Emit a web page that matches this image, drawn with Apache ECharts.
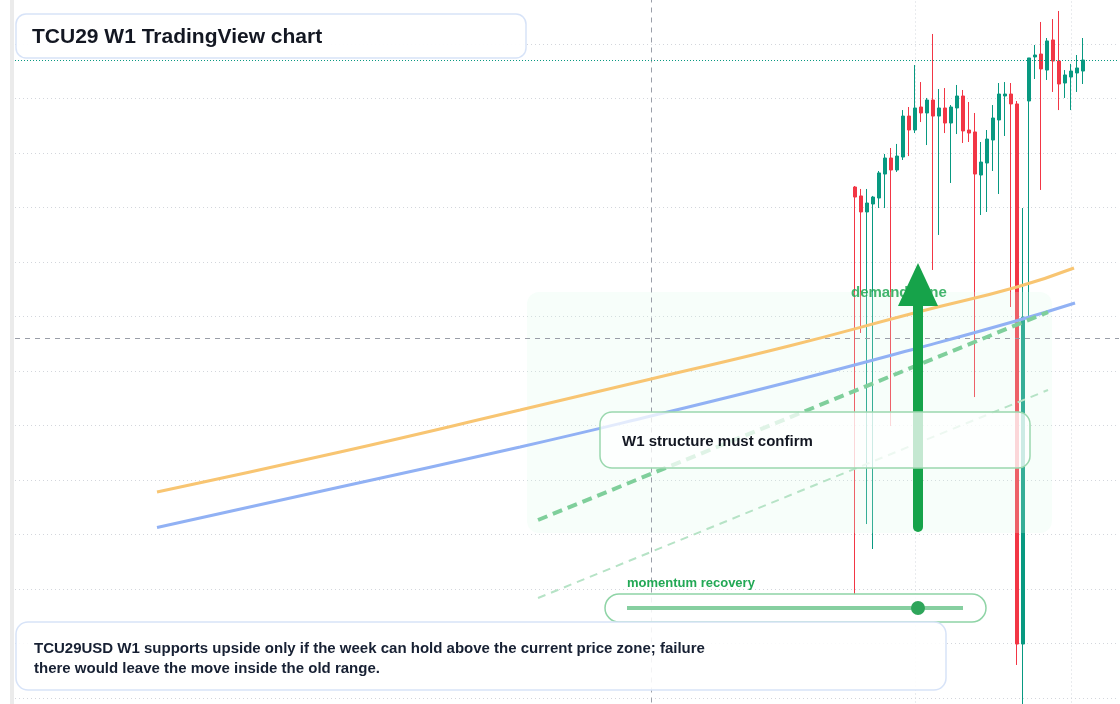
<!DOCTYPE html>
<html>
<head>
<meta charset="utf-8">
<title>TCU29 W1 TradingView chart</title>
<script src="https://cdn.jsdelivr.net/npm/echarts@6/dist/echarts.min.js"></script>
<style>
  html, body { margin: 0; padding: 0; background: #fff; }
  #chart { width: 1120px; height: 704px; }
</style>
</head>
<body>
<div id="chart"></div>
<script>
// weekly candles, oldest first
const firstWeek = 140;
const opens  = [1.1188, 1.1106, 1.0959, 1.1032, 1.1087, 1.1307, 1.1454, 1.1344, 1.1463, 1.1839,
                1.1711, 1.1922, 1.1867, 1.1986, 1.1839, 1.1913, 1.1775, 1.1913, 1.2023, 1.1711,
                1.1693, 1.1298, 1.1408, 1.1619, 1.1803, 1.2023, 1.2041, 1.1950, 0.6995, 1.1977,
                1.2381, 1.2408, 1.2261, 1.2537, 1.2344, 1.2142, 1.2197, 1.2234, 1.2252];
const closes = [1.1096, 1.0959, 1.1041, 1.1096, 1.1317, 1.1454, 1.1344, 1.1472, 1.1839, 1.1711,
                1.1913, 1.1867, 1.1986, 1.1839, 1.1913, 1.1775, 1.1922, 1.2023, 1.1702, 1.1683,
                1.1307, 1.1417, 1.1628, 1.1821, 1.2041, 1.2041, 1.1950, 0.6995, 0.9995, 1.2372,
                1.2399, 1.2271, 1.2528, 1.2344, 1.2133, 1.2216, 1.2252, 1.2280, 1.2353];
const lows   = [0.7445, 0.9849, 0.8096, 0.7867, 1.0995, 1.0995, 0.8995, 1.1326, 1.1436, 1.1472,
                1.1683, 1.1784, 1.1573, 1.0427, 1.0748, 1.1683, 1.1225, 1.1674, 1.1592, 1.1601,
                0.9261, 1.0931, 1.0959, 1.1335, 1.1124, 1.1656, 1.0087, 0.6803, 0.6436, 0.9950,
                1.2179, 1.1161, 1.2170, 1.2060, 1.1894, 1.2005, 1.1894, 1.2060, 1.2133];
const highs  = [1.1197, 1.1170, 1.1170, 1.1106, 1.1335, 1.1491, 1.1546, 1.1583, 1.1894, 1.1922,
                1.2307, 1.2151, 1.2005, 1.2592, 1.2087, 1.2096, 1.1940, 1.2124, 1.2078, 1.1968,
                1.1867, 1.1601, 1.1711, 1.1940, 1.2142, 1.2151, 1.2142, 1.1977, 1.0995, 1.2372,
                1.2491, 1.2702, 1.2555, 1.2729, 1.2803, 1.2261, 1.2317, 1.2399, 1.2555];

// drawn studies, [week index, price]
const orangeBand  = [[23.67, 0.8390], [54.17, 0.8757], [84.17, 0.9142], [106, 0.9427],
                     [129, 0.9729], [150.5, 1.0041], [167, 1.0271], [176.5, 1.0445]];
const blueBand    = [[23.67, 0.8064], [54.17, 0.8436], [84.17, 0.8803], [106, 0.9087],
                     [129, 0.9399], [150.5, 0.9711], [166.8, 0.9959], [176.67, 1.0124]];
const supportDash = [[87.17, 0.8133], [172.17, 1.0041]];
const lowerDash   = [[87.17, 0.7417], [172.17, 0.9326]];

const demandZone  = [85.33, 172.83, 1.0225, 0.8014]; // from week, to week, top, bottom
const zoneLabelAt = [139.33, 1.0216];
const arrowShaft  = [[150.5, 0.8069], [150.5, 1.0151]];
const arrowHead   = [[150.5, 1.0294]];
const crossWeek   = 106;
const crossPrice  = 0.9803;
const weekSplits  = [150, 176];

const weeks = [];
for (let i = 0; i < 185; i++) weeks.push('W' + (i + 1));

const UP = '#089981';
const DOWN = '#f23645';
const FONT = '"Liberation Sans", Arial, sans-serif';

const candles = opens.map((o, i) => [firstWeek + i, o, closes[i], lows[i], highs[i]]);
const lastClose = closes[closes.length - 1];

const chart = echarts.init(document.getElementById('chart'));

const option = {
  animation: false,
  backgroundColor: '#ffffff',
  grid: { left: 15, right: 1, top: -10.5, height: 763, outerBoundsMode: 'none', containLabel: false },
  xAxis: [
    {
      type: 'category',
      data: weeks,
      boundaryGap: false,
      axisLine: { show: false },
      axisTick: { show: false },
      axisLabel: { show: false },
      splitLine: {
        show: true,
        interval: (i) => weekSplits.includes(i),
        lineStyle: { color: '#d3d6dc', type: [1, 3] }
      }
    },
    { type: 'value', min: 0, max: weeks.length - 1, show: false }
  ],
  yAxis: {
    type: 'value',
    min: 0.60,
    max: 1.30,
    interval: 0.05,
    axisLine: { show: false },
    axisTick: { show: false },
    axisLabel: { show: false },
    splitLine: { show: true, lineStyle: { color: '#d3d6dc', type: [1, 3] } }
  },
  series: [
    {
      name: 'TCU29USD',
      type: 'candlestick',
      xAxisIndex: 0,
      data: candles,
      encode: { x: 0, y: [1, 2, 3, 4] },
      barWidth: 4,
      z: 2,
      itemStyle: { color: UP, color0: DOWN, borderColor: UP, borderColor0: DOWN, borderWidth: 1 }
    },
    {
      name: 'demand zone',
      type: 'custom',
      xAxisIndex: 1,
      z: 3,
      clip: false,
      data: [demandZone],
      renderItem: (params, api) => {
        const a = api.coord([api.value(0), api.value(2)]);
        const b = api.coord([api.value(1), api.value(3)]);
        return {
          type: 'rect',
          shape: { x: a[0], y: a[1], width: b[0] - a[0], height: b[1] - a[1], r: 12 },
          style: { fill: 'rgba(220,252,231,0.22)' }
        };
      }
    },
    {
      name: 'zone label',
      type: 'custom',
      xAxisIndex: 1,
      z: 4,
      clip: false,
      data: [zoneLabelAt],
      renderItem: (params, api) => {
        const c = api.coord([api.value(0), api.value(1)]);
        return {
          type: 'text',
          x: c[0], y: c[1],
          style: { text: 'demand zone', fill: 'rgba(34,168,84,0.85)', font: 'bold 15px ' + FONT, verticalAlign: 'middle', align: 'left' }
        };
      }
    },
    {
      name: 'upper band',
      type: 'line',
      xAxisIndex: 1,
      data: orangeBand,
      smooth: true,
      showSymbol: false,
      z: 5,
      lineStyle: { color: '#f8c572', width: 3 },
      markLine: {
        silent: true,
        symbol: 'none',
        precision: 4,
        label: { show: false },
        lineStyle: { color: '#9a9ea8', type: [5, 5], width: 1 },
        data: [
          { xAxis: crossWeek },
          { yAxis: crossPrice },
          { yAxis: lastClose, lineStyle: { color: UP, type: [1, 2], width: 1 } }
        ]
      }
    },
    {
      name: 'lower band',
      type: 'line',
      xAxisIndex: 1,
      data: blueBand,
      smooth: true,
      showSymbol: false,
      z: 5,
      lineStyle: { color: '#91b1f4', width: 3 }
    },
    {
      name: 'support',
      type: 'line',
      xAxisIndex: 1,
      data: supportDash,
      showSymbol: false,
      z: 5,
      lineStyle: { color: '#7fcf9b', width: 4, type: [10, 6] }
    },
    {
      name: 'lower support',
      type: 'line',
      xAxisIndex: 1,
      data: lowerDash,
      showSymbol: false,
      z: 5,
      lineStyle: { color: '#b6e3c6', width: 2, type: [8, 6] }
    },
    {
      name: 'arrow',
      type: 'line',
      xAxisIndex: 1,
      data: arrowShaft,
      showSymbol: false,
      z: 6,
      lineStyle: { color: '#16a34a', width: 10, cap: 'round' }
    },
    {
      name: 'arrow head',
      type: 'scatter',
      xAxisIndex: 1,
      data: arrowHead,
      symbol: 'triangle',
      symbolSize: [40, 43],
      z: 6,
      itemStyle: { color: '#16a34a', opacity: 1 }
    }
  ],
  graphic: [
    { type: 'rect', z: 90, shape: { x: 10, y: 0, width: 4, height: 704 },
      style: { fill: '#ebebeb' } },

    { type: 'rect', z: 100, shape: { x: 16, y: 14, width: 510, height: 44, r: 10 },
      style: { fill: 'rgba(255,255,255,0.95)', stroke: '#d7e3f8', lineWidth: 1.5 } },
    { type: 'text', z: 101, x: 32, y: 37.5,
      style: { text: 'TCU29 W1 TradingView chart', fill: '#131722', font: 'bold 21px ' + FONT, verticalAlign: 'middle' } },

    { type: 'rect', z: 100, shape: { x: 600, y: 412, width: 430, height: 56, r: 12 },
      style: { fill: 'rgba(255,255,255,0.75)', stroke: '#9ad8ae', lineWidth: 1.5 } },
    { type: 'text', z: 101, x: 622, y: 442,
      style: { text: 'W1 structure must confirm', fill: '#131722', font: 'bold 15px ' + FONT, verticalAlign: 'middle' } },

    { type: 'text', z: 101, x: 627, y: 583,
      style: { text: 'momentum recovery', fill: '#22a855', font: 'bold 13px ' + FONT, verticalAlign: 'middle' } },
    { type: 'rect', z: 100, shape: { x: 605, y: 594, width: 381, height: 28, r: 14 },
      style: { fill: 'rgba(255,255,255,0.85)', stroke: '#8fd4a6', lineWidth: 1.5 } },
    { type: 'line', z: 101, shape: { x1: 627, y1: 608, x2: 963, y2: 608 },
      style: { stroke: '#86cfa0', lineWidth: 4 } },
    { type: 'circle', z: 102, shape: { cx: 918, cy: 608, r: 7 },
      style: { fill: '#2ea55a' } },

    { type: 'rect', z: 100, shape: { x: 16, y: 622, width: 930, height: 68, r: 12 },
      style: { fill: 'rgba(255,255,255,0.88)', stroke: '#d7e3f8', lineWidth: 1.5 } },
    { type: 'text', z: 101, x: 34, y: 648.5,
      style: { text: 'TCU29USD W1 supports upside only if the week can hold above the current price zone; failure', fill: '#172033', font: 'bold 15px ' + FONT, verticalAlign: 'middle' } },
    { type: 'text', z: 101, x: 34, y: 668.5,
      style: { text: 'there would leave the move inside the old range.', fill: '#172033', font: 'bold 15px ' + FONT, verticalAlign: 'middle' } }
  ]
};

chart.setOption(option);
</script>
</body>
</html>
